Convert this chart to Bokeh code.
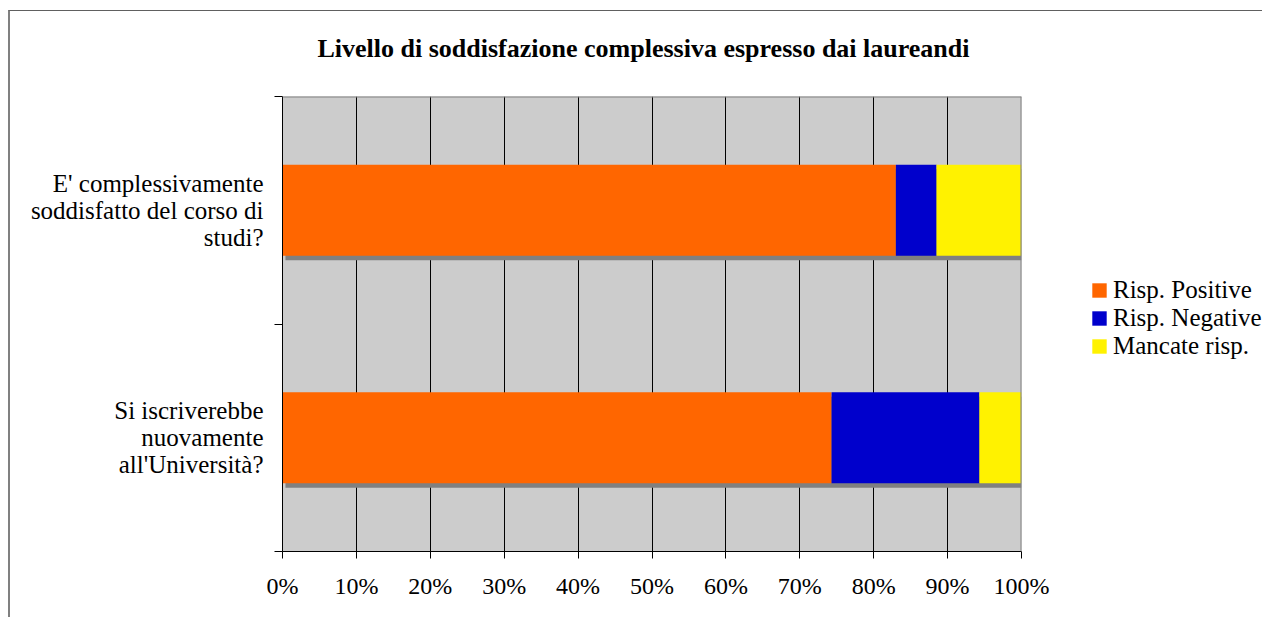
from bokeh.plotting import figure
from bokeh.models import FixedTicker, Legend, LegendItem, Span, Title
from bokeh.embed import file_html
from bokeh.resources import INLINE
import numpy as np

# ---- data ----
categories = ["Si iscriverebbe\nnuovamente\nall'Università?",
              "E' complessivamente\nsoddisfatto del corso di\nstudi?"]
series_names = ["Risp. Positive", "Risp. Negative", "Mancate risp."]
positive = [74.3, 83.0]
negative = [20.0, 5.5]
missing = [5.7, 11.5]
x_ticks = [0, 10, 20, 30, 40, 50, 60, 70, 80, 90, 100]
x_tick_labels = ["0%", "10%", "20%", "30%", "40%", "50%", "60%", "70%", "80%", "90%", "100%"]
title_text = "Livello di soddisfazione complessiva espresso dai laureandi"

colors = ["#FF6600", "#0000CC", "#FFF200"]
FONT = "Liberation Serif"

ypos = np.arange(len(categories)) + 0.5
vals = np.array([positive, negative, missing])
rights = np.cumsum(vals, axis=0)
lefts = rights - vals
totals = rights[-1]

p = figure(frame_width=739, frame_height=455,
           min_border_left=272, min_border_right=239,
           min_border_top=85, min_border_bottom=66,
           x_range=(0, 100), y_range=(0, len(categories)),
           output_backend="svg", toolbar_location=None,
           background_fill_color="#CCCCCC", border_fill_color="white")
p.styles = {"border-left": "2px solid #808080", "border-top": "1px solid #606060",
            "margin-top": "10px", "margin-left": "8px"}
p.outline_line_color = None
p.title = None

# spacer (nearest the frame) then the real title above it
p.add_layout(Title(text=" ", text_font_size="29px", standoff=0), "above")
p.add_layout(Title(text=title_text, align="left", offset=35, text_font=FONT,
                   text_font_size="26px", text_font_style="bold", text_color="black",
                   standoff=0), "above")

# shadow
h = 0.4
dx = 0.4
dy = 0.02
p.hbar(y=ypos - dy, left=dx, right=totals + dx, height=h,
       fill_color="#808080", line_color=None)

renderers = []
for i in range(3):
    r = p.hbar(y=ypos, left=lefts[i], right=rights[i], height=h,
               fill_color=colors[i], line_color=None)
    renderers.append(r)

# axes
p.xaxis.ticker = FixedTicker(ticks=x_ticks)
p.xaxis.major_label_overrides = {t: l for t, l in zip(x_ticks, x_tick_labels)}
p.xaxis.major_tick_out = 7
p.xaxis.major_tick_in = 0
p.xaxis.minor_tick_line_color = None
p.xaxis.axis_line_color = "black"
p.xaxis.major_tick_line_color = "black"
p.xaxis.major_label_text_font = FONT
p.xaxis.major_label_text_font_size = "24px"
p.xaxis.major_label_text_color = "black"
p.xaxis.major_label_standoff = 14

p.yaxis.ticker = FixedTicker(ticks=list(ypos), minor_ticks=list(range(len(categories) + 1)))
p.yaxis.major_label_overrides = {float(y): c for y, c in zip(ypos, categories)}
p.yaxis.major_tick_out = 0
p.yaxis.major_tick_in = 0
p.yaxis.minor_tick_out = 8
p.yaxis.minor_tick_in = 0
p.yaxis.minor_tick_line_color = "black"
p.yaxis.axis_line_color = "black"
p.yaxis.major_label_text_font = FONT
p.yaxis.major_label_text_font_size = "25px"
p.yaxis.major_label_text_color = "black"
p.yaxis.major_label_text_line_height = 1.0
p.yaxis.major_label_standoff = 11

p.xgrid.ticker = FixedTicker(ticks=x_ticks[1:-1])
p.xgrid.grid_line_color = "black"
p.xgrid.grid_line_width = 1
p.ygrid.grid_line_color = None

p.add_layout(Span(location=100, dimension="height", line_color="#808080", line_width=2))
p.add_layout(Span(location=len(categories), dimension="width", line_color="#808080", line_width=2))

legend = Legend(items=[LegendItem(label=n, renderers=[r]) for n, r in zip(series_names, renderers)],
                location=(69, 191), orientation="vertical",
                glyph_width=18, glyph_height=18, label_standoff=5,
                label_text_font=FONT, label_text_font_size="25px", label_text_color="black",
                label_height=18, spacing=0, padding=0, margin=0,
                border_line_color=None, background_fill_alpha=0)
p.add_layout(legend, "right")

open("out.html", "w").write(file_html(p, INLINE))
